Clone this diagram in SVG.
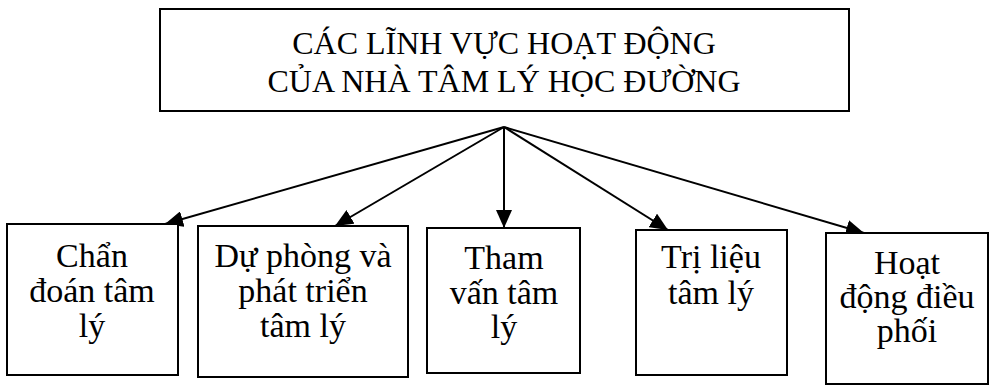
<svg xmlns="http://www.w3.org/2000/svg" width="1005" height="387" viewBox="0 0 1005 387">
  <style>
    .box { fill: #ffffff; stroke: #000000; stroke-width: 2; }
    .title { font-family: "Liberation Serif", "Times New Roman", serif; font-size: 32px; fill: #000000; text-anchor: middle; }
    .lbl { font-family: "Liberation Serif", "Times New Roman", serif; font-size: 34px; fill: #000000; text-anchor: middle; }
    .conn { stroke: #000000; stroke-width: 2; fill: none; marker-end: url(#arrow); }
  </style>
  <defs>
    <marker id="arrow" markerUnits="userSpaceOnUse" markerWidth="20" markerHeight="16" refX="18" refY="8" orient="auto">
      <path d="M0,0 L18,8 L0,16 Z" fill="#000000"/>
    </marker>
  </defs>
  <rect width="1005" height="387" fill="#ffffff"/>

  <g id="root">
    <rect class="box" x="160" y="9" width="689" height="102"/>
    <text class="title" x="504" y="54">CÁC LĨNH VỰC HOẠT ĐỘNG</text>
    <text class="title" x="504" y="92">CỦA NHÀ TÂM LÝ HỌC ĐƯỜNG</text>
  </g>

  <g id="connectors">
    <path class="conn" d="M504,127 L165,224"/>
    <path class="conn" d="M504,127 L335,226"/>
    <path class="conn" d="M504,127 L504,228"/>
    <path class="conn" d="M504,127 L668,230"/>
    <path class="conn" d="M504,127 L864,233"/>
  </g>

  <g id="node1">
    <rect class="box" x="7" y="224" width="171" height="151"/>
    <text class="lbl" x="92" y="267">Chẩn</text>
    <text class="lbl" x="92" y="302">đoán tâm</text>
    <text class="lbl" x="92" y="337">lý</text>
  </g>

  <g id="node2">
    <rect class="box" x="198" y="226" width="210" height="151"/>
    <text class="lbl" x="303" y="267">Dự phòng và</text>
    <text class="lbl" x="303" y="302">phát triển</text>
    <text class="lbl" x="303" y="337">tâm lý</text>
  </g>

  <g id="node3">
    <rect class="box" x="427" y="228" width="153" height="145"/>
    <text class="lbl" x="504" y="269">Tham</text>
    <text class="lbl" x="504" y="304">vấn tâm</text>
    <text class="lbl" x="504" y="338">lý</text>
  </g>

  <g id="node4">
    <rect class="box" x="636" y="230" width="151" height="145"/>
    <text class="lbl" x="711" y="268">Trị liệu</text>
    <text class="lbl" x="711" y="304">tâm lý</text>
  </g>

  <g id="node5">
    <rect class="box" x="826" y="233" width="162" height="151"/>
    <text class="lbl" x="907" y="274">Hoạt</text>
    <text class="lbl" x="907" y="308">động điều</text>
    <text class="lbl" x="907" y="342">phối</text>
  </g>
</svg>
